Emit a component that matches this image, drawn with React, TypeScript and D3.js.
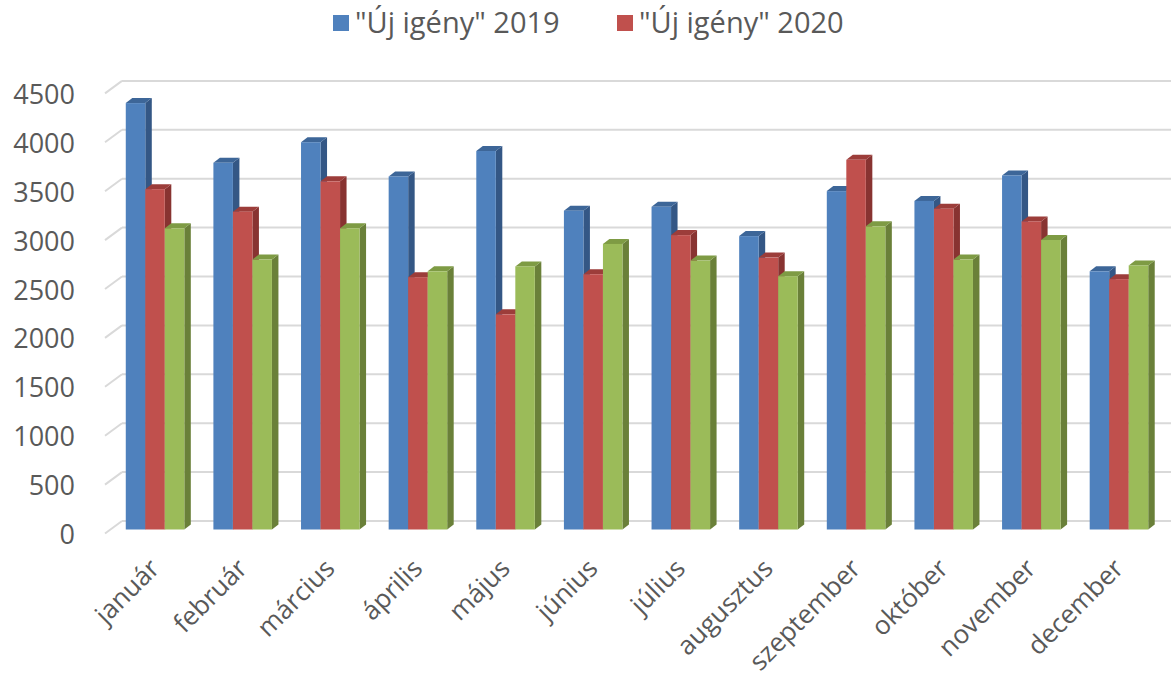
import React from 'react';
import * as d3 from 'd3';

const months = ['január', 'február', 'március', 'április', 'május', 'június', 'július', 'augusztus', 'szeptember', 'október', 'november', 'december'];
const values2019 = [4360, 3750, 3960, 3610, 3870, 3260, 3300, 3000, 3460, 3360, 3620, 2640];
const values2020 = [3480, 3250, 3560, 2580, 2200, 2610, 3010, 2780, 3780, 3280, 3150, 2560];
const valuesThird = [3080, 2760, 3080, 2640, 2690, 2920, 2750, 2590, 3100, 2760, 2960, 2700];
const yTicks = [0, 500, 1000, 1500, 2000, 2500, 3000, 3500, 4000, 4500];
const legendLabels = ['"Új igény" 2019', '"Új igény" 2020'];

const seriesKeys = ['s2019', 's2020', 's3'];
const palette: Record<string, { front: string; top: string; side: string }> = {
  s2019: { front: '#4F81BD', top: '#3D6698', side: '#345785' },
  s2020: { front: '#C0504D', top: '#9C3D3A', side: '#883331' },
  s3: { front: '#9BBB59', top: '#7E9B44', side: '#6A8039' },
};

export default function App() {
  const W = 1171;
  const H = 681;
  const font = '"Open Sans", "Noto Sans", sans-serif';
  const textColor = '#595959';

  const x = d3.scaleBand<string>().domain(months).range([110, 1164]).paddingInner(0.332).paddingOuter(0.18);
  const sub = d3.scaleBand<string>().domain(seriesKeys).range([0, x.bandwidth()]);
  const y = d3.scaleLinear().domain([0, 4500]).range([529.5, 89.4]);

  const wallDx = 17, wallDy = -12.5;
  const backShift = -8.5;
  const barDx = 6.5, barDy = -5;
  const wallLeftFront = 105;

  const data = [values2019, values2020, valuesThird];

  const bars: JSX.Element[] = [];
  months.forEach((m, i) => {
    seriesKeys.forEach((k, s) => {
      const v = data[s][i];
      const x0 = (x(m) as number) + (sub(k) as number);
      const w = sub.bandwidth();
      const yt = y(v);
      const yb = y(0);
      const c = palette[k];
      bars.push(
        <g key={`${m}-${k}`}>
          <polygon
            points={`${x0 + w},${yt} ${x0 + w + barDx},${yt + barDy} ${x0 + w + barDx},${yb + barDy} ${x0 + w},${yb}`}
            fill={c.side}
          />
          <polygon
            points={`${x0},${yt} ${x0 + w},${yt} ${x0 + w + barDx},${yt + barDy} ${x0 + barDx},${yt + barDy}`}
            fill={c.top}
          />
          <rect x={x0} y={yt} width={w} height={yb - yt} fill={c.front} />
        </g>
      );
    });
  });

  return (
    <svg width={W} height={H} style={{ position: 'absolute', left: 0, top: 0, display: 'block', background: '#fff' }}>
      {yTicks.map((t) => {
        const yb = y(t) + backShift;
        return (
          <g key={`g${t}`}>
            <line x1={wallLeftFront} y1={yb - wallDy} x2={wallLeftFront + wallDx} y2={yb} stroke="#D9D9D9" strokeWidth={2} />
            <line x1={wallLeftFront + wallDx} y1={yb} x2={1171} y2={yb} stroke="#D9D9D9" strokeWidth={2} />
          </g>
        );
      })}
      {yTicks.map((t) => (
        <text key={`yl${t}`} x={75} y={y(t) + backShift - wallDy} textAnchor="end" dominantBaseline="central" fontFamily={font} fontSize={27} fill={textColor}>
          {t}
        </text>
      ))}
      {bars}
      {months.map((m) => {
        const cx = (x(m) as number) + x.bandwidth() / 2;
        return (
          <text key={`xl${m}`} transform={`translate(${cx + 6},${570}) rotate(-45)`} textAnchor="end" fontFamily={font} fontSize={26} fill={textColor}>
            {m}
          </text>
        );
      })}
      {legendLabels.map((l, i) => {
        const lx = [333, 617][i];
        const c = palette[seriesKeys[i]].front;
        return (
          <g key={`lg${i}`}>
            <rect x={lx} y={15} width={16} height={16} fill={c} />
            <text x={lx + 22} y={33} fontFamily={font} fontSize={29} fill={textColor}>{l}</text>
          </g>
        );
      })}
    </svg>
  );
}
